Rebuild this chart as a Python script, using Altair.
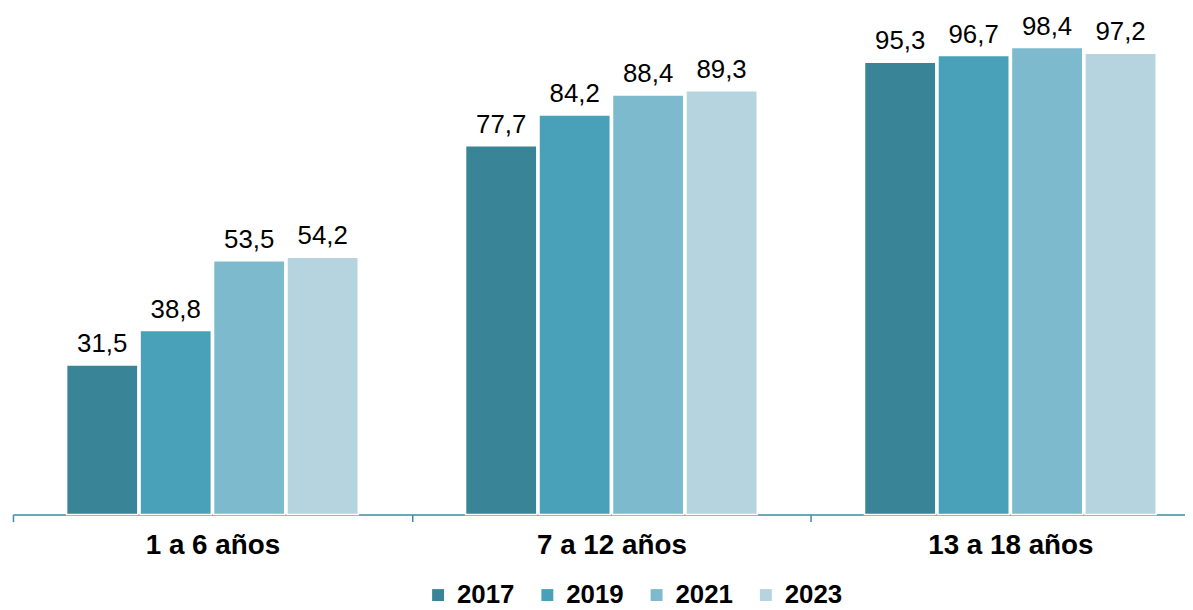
import altair as alt
import pandas as pd

groups = ["1 a 6 años", "7 a 12 años", "13 a 18 años"]
years = ["2017", "2019", "2021", "2023"]
v2017 = [31.5, 77.7, 95.3]
v2019 = [38.8, 84.2, 96.7]
v2021 = [53.5, 88.4, 98.4]
v2023 = [54.2, 89.3, 97.2]
colors = ["#3A8497", "#48A1B9", "#7EBACE", "#B5D4DF"]

rows = []
for yr, vals in zip(years, [v2017, v2019, v2021, v2023]):
    for g, v in zip(groups, vals):
        rows.append({"grupo": g, "anio": yr, "valor": v,
                     "etiqueta": f"{v:.1f}".replace(".", ",")})
df = pd.DataFrame(rows)

FONT = "Liberation Sans"

base = alt.Chart(df).encode(
    x=alt.X("grupo:N", sort=groups, title=None,
            scale=alt.Scale(paddingInner=0, paddingOuter=0, range=[0, 1205]),
            axis=alt.Axis(labelAngle=0, labelFontSize=28, labelFontWeight="bold",
                          labelFont=FONT, labelColor="#000000", labelPadding=10,
                          domainColor="#3A8CA3", domainWidth=1.5,
                          tickColor="#3A8CA3", tickWidth=1.5, tickSize=7,
                          tickBand="extent", grid=False)),
    xOffset=alt.XOffset("anio:N", sort=years,
                        scale=alt.Scale(paddingInner=0.03, paddingOuter=0.73)),
    y=alt.Y("valor:Q", scale=alt.Scale(domain=[0, 106.3], nice=False, zero=True),
            axis=None),
)

bars = base.mark_bar(stroke="white", strokeWidth=1.5).encode(
    color=alt.Color("anio:N", sort=years,
                    scale=alt.Scale(domain=years, range=colors),
                    legend=alt.Legend(title=None, orient="none", direction="horizontal",
                                      legendX=415, legendY=576,
                                      symbolType="square", symbolSize=144,
                                      symbolStrokeWidth=0,
                                      labelFontSize=26, labelFontWeight="bold",
                                      labelFont=FONT, labelColor="#000000",
                                      columnPadding=20, symbolOffset=0,
                                      labelOffset=6))
)

text = base.mark_text(baseline="alphabetic", dy=-13, fontSize=26, font=FONT,
                      color="#000000").encode(text="etiqueta:N")

chart = (bars + text).properties(
    width=1180, height=508,
    autosize=alt.AutoSizeParams(type="none"),
    padding={"left": 5, "top": 0, "right": 0, "bottom": 92},
).configure(background="white", view={"strokeWidth": 0, "stroke": None})

chart.save("out.html", embed_options={"renderer": "svg", "actions": False})
